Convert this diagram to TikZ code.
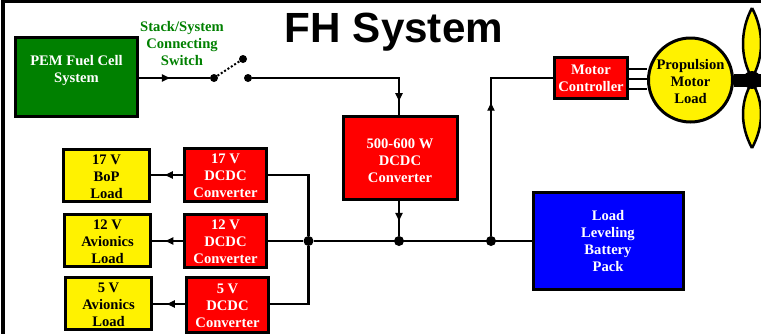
\documentclass[tikz,border=0pt]{standalone}
\usepackage{fontspec}
\setmainfont{Liberation Serif}
\newfontfamily\titlefont{Liberation Sans}
\usetikzlibrary{arrows.meta, decorations.markings}
\definecolor{stackgreen}{RGB}{0,128,0}
\newcommand{\lowerby}[1]{\rule{0pt}{#1}}
\tikzset{
    block/.style={draw=black, line width=3pt, inner sep=0pt, align=center,
        font=\fontsize{14.6}{17}\selectfont\bfseries},
    fuelbox/.style={block, fill=stackgreen, text=white},
    redbox/.style={block, fill=red, text=white},
    yellowbox/.style={block, fill=yellow, text=black},
    bluebox/.style={block, fill=blue, text=white},
    wire/.style={line width=2.6pt, line join=miter},
    flow/.style={wire, postaction={decorate}, decoration={markings,
        mark=at position #1 with {\arrow[line width=1pt]{Latex[length=9pt, width=8pt]}}}},
    junction/.style={circle, fill=black, inner sep=0pt, minimum size=10pt},
}
\begin{document}
\begin{tikzpicture}[x=1pt, y=-1pt]
    \path[use as bounding box, clip] (0,0) rectangle (761,333);
    \draw[line width=3.5pt] (3,400) |- (800,1);
    \node[font=\titlefont\fontsize{42.2}{46}\selectfont\bfseries] (title) at (394,32) {FH System};
    % boxes
    \node[fuelbox, minimum width=122pt, minimum height=79pt] (pem) at (76.5,77) {PEM Fuel Cell\\System\\~};
    \node[align=center, text=stackgreen, font=\fontsize{14.6}{17}\selectfont\bfseries] (switchtext) at (182,44) {Stack/System\\Connecting\\Switch};
    \node[redbox, minimum width=114pt, minimum height=83pt] (main) at (400,158) {\lowerby{16pt}500-600 W\\DCDC\\Converter};
    \node[redbox, minimum width=73pt, minimum height=41pt] (ctrl) at (591,78) {Motor\\Controller};
    \node[bluebox, minimum width=150pt, minimum height=97pt] (batt) at (608,240.5) {Load\\Leveling\\Battery\\Pack};
    \node[redbox, minimum width=82pt, minimum height=53pt] (dc17) at (225.5,175) {\lowerby{12pt}17 V\\DCDC\\Converter};
    \node[redbox, minimum width=82pt, minimum height=53pt] (dc12) at (225.5,241) {\lowerby{12pt}12 V\\DCDC\\Converter};
    \node[redbox, minimum width=82pt, minimum height=55pt] (dc5) at (227.5,305) {\lowerby{12pt}5 V\\DCDC\\Converter};
    \node[yellowbox, minimum width=86pt, minimum height=52pt] (load17) at (106.5,175.5) {\lowerby{12pt}17 V\\BoP\\Load};
    \node[yellowbox, minimum width=86pt, minimum height=52pt] (load12) at (107.5,240.5) {\lowerby{12pt}12 V\\Avionics\\Load};
    \node[yellowbox, minimum width=86pt, minimum height=52pt] (load5) at (108.5,303.5) {\lowerby{12pt}5 V\\Avionics\\Load};
    % switch
    \node[junction, minimum size=8pt] (swa) at (214,78) {};
    \node[junction, minimum size=8pt] (swb) at (243,59) {};
    \node[junction, minimum size=8pt] (swc) at (248,78) {};
    % bus
    \node[junction] (busa) at (308.5,241) {};
    \node[junction] (busb) at (399,241) {};
    \node[junction] (busc) at (491,241) {};
    % propeller
    \coordinate (hub) at (752,80);
    \draw[line width=2.5pt, fill=yellow] (752,8) .. controls (740,30) and (740,58) .. (752,78) .. controls (764,58) and (764,30) .. (752,8);
    \draw[line width=2.5pt, fill=yellow] (752,148) .. controls (740,126) and (740,102) .. (752,82) .. controls (764,102) and (764,126) .. (752,148);
    \node[circle, draw=black, fill=yellow, line width=3pt, inner sep=0pt, minimum size=84pt, align=center,
        font=\fontsize{14.6}{17}\selectfont\bfseries] (motor) at (690.5,80) {\lowerby{14pt}Propulsion\\Motor\\Load};
    \draw[line width=13pt] (motor.east) -- (hub) -- (770,80);
    \node[circle, fill=black, inner sep=0pt, minimum size=18pt] (hubdot) at (hub) {};
    % connectors
    \draw[flow=0.45] (pem.east |- swa) -- (swa);
    \draw[wire, line width=2pt, dotted] (swa) -- (swb);
    \draw[flow=0.93] (swc) -| (main.north -| busb);
    \draw[flow=0.6] (main.south -| busb) -- (busb);
    \draw[flow=0.61] (busc) |- (ctrl.west);
    \draw[wire] (busa) -- (batt.west |- busa);
    \draw[wire] (dc12.east) -- (busa);
    \draw[wire] (dc17.east) -| (busa);
    \draw[wire] (dc5.east |- 0,304) -| (busa);
    \draw[flow=0.6] (dc17.west) -- (load17.east |- dc17.west);
    \draw[flow=0.6] (dc12.west) -- (load12.east |- dc12.west);
    \draw[flow=0.6] (dc5.west |- 0,304) -- (load5.east |- 0,304);
    \draw[wire] (ctrl.east |- 0,69) -- (motor.west |- 0,69);
    \draw[wire] (ctrl.east |- 0,79) -- (motor.west |- 0,79);
    \draw[wire] (ctrl.east |- 0,89) -- (motor.west |- 0,89);
\end{tikzpicture}
\end{document}
